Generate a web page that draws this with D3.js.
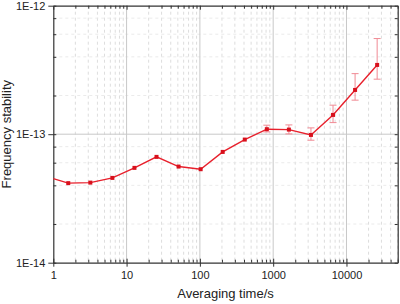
<!DOCTYPE html>
<html>
<head>
<meta charset="utf-8">
<script src="https://cdn.jsdelivr.net/npm/d3@7"></script>
<style>
  body { margin: 0; background: #fff; }
  svg { display: block; font-family: "Liberation Sans", Arial, sans-serif; }
</style>
</head>
<body>
<svg width="400" height="304"></svg>
<script>
// data
const taus = [1, 1.6, 3.2, 6.4, 12.8, 25.6, 51.2, 102.4, 204.8, 409.6, 819.2, 1638.4, 3276.8, 6553.6, 13107.2, 26214.4];
const stability = [4.51e-14, 4.16e-14, 4.20e-14, 4.57e-14, 5.47e-14, 6.66e-14, 5.60e-14, 5.34e-14, 7.28e-14, 9.08e-14, 1.094e-13, 1.086e-13, 9.87e-14, 1.413e-13, 2.21e-13, 3.46e-13];
const errUpper = [0, 0, 0, 0, 0, 0, 0, 0, 0, 0, 1.175e-13, 1.181e-13, 1.12e-13, 1.682e-13, 2.96e-13, 5.55e-13];
const errLower = [0, 0, 0, 0, 0, 0, 0, 0, 0, 0, 1.042e-13, 1.005e-13, 8.98e-14, 1.231e-13, 1.84e-13, 2.68e-13];
const xTicks = [1, 10, 100, 1000, 10000];
const yTicks = [1e-14, 1e-13, 1e-12];
const yTickLabels = ["1E-14", "1E-13", "1E-12"];

const data = taus.map((t, i) => ({t: t, v: stability[i], hi: errUpper[i], lo: errLower[i]}));

const margin = {top: 5.7, right: 2.3, bottom: 41.3, left: 53.3};
const width = 400 - margin.left - margin.right;
const height = 304 - margin.top - margin.bottom;

const svg = d3.select("svg");
const g = svg.append("g").attr("transform", `translate(${margin.left},${margin.top})`);

const x = d3.scaleLog().domain([1, 50000]).range([0, width]);
const y = d3.scaleLog().domain([1e-14, 1e-12]).range([height, 0]);

// minor positions
const xMinor = [];
for (let d = 1; d <= 10000; d *= 10) {
  for (let k = 2; k <= 9; k++) if (d * k <= 50000) xMinor.push(d * k);
}
const yMinor = [];
[1e-14, 1e-13].forEach(d => [2, 4, 6, 8].forEach(k => yMinor.push(d * k)));

// grid
g.append("g").selectAll("line").data(xMinor).enter().append("line")
  .attr("x1", d => x(d)).attr("x2", d => x(d)).attr("y1", 0).attr("y2", height)
  .attr("stroke", "#d4d4d4").attr("stroke-width", 0.8).attr("stroke-dasharray", "3,3");
g.append("g").selectAll("line").data(yMinor).enter().append("line")
  .attr("x1", 0).attr("x2", width).attr("y1", d => y(d)).attr("y2", d => y(d))
  .attr("stroke", "#e4e4e4").attr("stroke-width", 0.8).attr("stroke-dasharray", "3,3");
g.append("g").selectAll("line").data(xTicks.slice(1)).enter().append("line")
  .attr("x1", d => x(d)).attr("x2", d => x(d)).attr("y1", 0).attr("y2", height)
  .attr("stroke", "#c8c8c8").attr("stroke-width", 1);
g.append("line")
  .attr("x1", 0).attr("x2", width).attr("y1", y(1e-13)).attr("y2", y(1e-13))
  .attr("stroke", "#c8c8c8").attr("stroke-width", 1);

// axes: major ticks crossing, minor ticks inside
function styleAxis(sel) {
  sel.select(".domain").attr("stroke", "#333").attr("stroke-width", 1.2);
  sel.selectAll(".tick line").attr("stroke", "#333").attr("stroke-width", 1);
  sel.selectAll(".tick text").attr("fill", "#222").style("font-size", "11px")
    .style("font-family", "'Liberation Sans', Arial, sans-serif");
}

const xAxis = g.append("g").attr("transform", `translate(0,${height})`)
  .call(d3.axisBottom(x).tickValues(xTicks).tickFormat(d3.format("d")).tickSize(4).tickPadding(5).tickSizeOuter(0));
xAxis.selectAll(".tick line").attr("y1", -4);
styleAxis(xAxis);
g.append("g").attr("transform", `translate(0,${height})`)
  .call(d3.axisBottom(x).tickValues(xMinor).tickFormat("").tickSize(-3).tickSizeOuter(0))
  .call(s => s.select(".domain").remove())
  .call(styleAxis);

const xTop = g.append("g")
  .call(d3.axisTop(x).tickValues(xMinor).tickFormat("").tickSize(-3).tickSizeOuter(0));
styleAxis(xTop);
g.append("g").call(d3.axisTop(x).tickValues(xTicks).tickFormat("").tickSize(-4).tickSizeOuter(0))
  .call(s => s.select(".domain").remove()).call(styleAxis);

const yAxis = g.append("g")
  .call(d3.axisLeft(y).tickValues(yTicks).tickFormat((d, i) => yTickLabels[i]).tickSize(5).tickPadding(3).tickSizeOuter(0));
yAxis.selectAll(".tick line").attr("x1", 3);
styleAxis(yAxis);
g.append("g").call(d3.axisLeft(y).tickValues(yMinor).tickFormat("").tickSize(-3).tickSizeOuter(0))
  .call(s => s.select(".domain").remove()).call(styleAxis);

const yRight = g.append("g").attr("transform", `translate(${width},0)`)
  .call(d3.axisRight(y).tickValues(yMinor.concat(yTicks)).tickFormat("").tickSize(-3).tickSizeOuter(0));
styleAxis(yRight);

// error bars
const eb = data.filter(d => d.hi > 0);
const ebG = g.append("g").attr("stroke", "#f08a94").attr("stroke-width", 1);
ebG.selectAll("line.v").data(eb).enter().append("line")
  .attr("x1", d => x(d.t)).attr("x2", d => x(d.t))
  .attr("y1", d => y(d.hi)).attr("y2", d => y(d.lo));
["hi", "lo"].forEach(k => {
  ebG.selectAll("line." + k).data(eb).enter().append("line")
    .attr("x1", d => x(d.t) - 3.5).attr("x2", d => x(d.t) + 3.5)
    .attr("y1", d => y(d[k])).attr("y2", d => y(d[k]));
});

// line
const line = d3.line().x(d => x(d.t)).y(d => y(d.v));
g.append("path").datum(data)
  .attr("d", line).attr("fill", "none")
  .attr("stroke", "#e8202c").attr("stroke-width", 1.4);

// markers
g.selectAll("rect.pt").data(data.slice(1)).enter().append("rect")
  .attr("x", d => x(d.t) - 2).attr("y", d => y(d.v) - 2)
  .attr("width", 4).attr("height", 4)
  .attr("fill", "#d8101c");

// axis titles
svg.append("text")
  .attr("x", margin.left + width / 2).attr("y", 298)
  .attr("text-anchor", "middle").attr("fill", "#222")
  .style("font-size", "13px")
  .text("Averaging time/s");

svg.append("text")
  .attr("transform", `translate(11,${margin.top + height / 2}) rotate(-90)`)
  .attr("text-anchor", "middle").attr("fill", "#222")
  .style("font-size", "13px")
  .text("Frequency stability");
</script>
</body>
</html>
